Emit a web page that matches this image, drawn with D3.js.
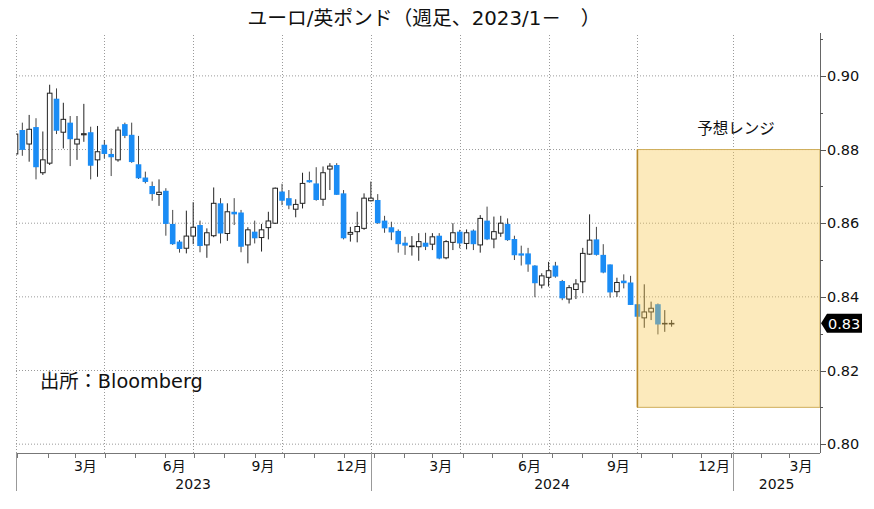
<!DOCTYPE html>
<html><head><meta charset="utf-8">
<script src="https://cdn.jsdelivr.net/npm/d3@7"></script>
<style>body{margin:0;background:#fff}</style>
</head><body>
<svg id="c" width="874" height="509"></svg>
<script>
const dates = ["2022-12-30","2023-01-06","2023-01-13","2023-01-20","2023-01-27","2023-02-03","2023-02-10","2023-02-17","2023-02-24","2023-03-03","2023-03-10","2023-03-17","2023-03-24","2023-03-31","2023-04-07","2023-04-14","2023-04-21","2023-04-28","2023-05-05","2023-05-12","2023-05-19","2023-05-26","2023-06-02","2023-06-09","2023-06-16","2023-06-23","2023-06-30","2023-07-07","2023-07-14","2023-07-21","2023-07-28","2023-08-04","2023-08-11","2023-08-18","2023-08-25","2023-09-01","2023-09-08","2023-09-15","2023-09-22","2023-09-29","2023-10-06","2023-10-13","2023-10-20","2023-10-27","2023-11-03","2023-11-10","2023-11-17","2023-11-24","2023-12-01","2023-12-08","2023-12-15","2023-12-22","2023-12-29","2024-01-05","2024-01-12","2024-01-19","2024-01-26","2024-02-02","2024-02-09","2024-02-16","2024-02-23","2024-03-01","2024-03-08","2024-03-15","2024-03-22","2024-03-29","2024-04-05","2024-04-12","2024-04-19","2024-04-26","2024-05-03","2024-05-10","2024-05-17","2024-05-24","2024-05-31","2024-06-07","2024-06-14","2024-06-21","2024-06-28","2024-07-05","2024-07-12","2024-07-19","2024-07-26","2024-08-02","2024-08-09","2024-08-16","2024-08-23","2024-08-30","2024-09-06","2024-09-13","2024-09-20","2024-09-27","2024-10-04","2024-10-11","2024-10-18","2024-10-25","2024-11-01"];
const opens = [0.8788,0.8853,0.8815,0.8861,0.8737,0.8763,0.8938,0.8847,0.8873,0.8815,0.8840,0.8847,0.8772,0.8813,0.8788,0.8772,0.8869,0.8840,0.8760,0.8724,0.8701,0.8678,0.8688,0.8598,0.8550,0.8532,0.8565,0.8595,0.8541,0.8566,0.8654,0.8572,0.8631,0.8629,0.8541,0.8577,0.8561,0.8588,0.8600,0.8686,0.8668,0.8638,0.8654,0.8717,0.8708,0.8665,0.8747,0.8758,0.8681,0.8570,0.8577,0.8586,0.8661,0.8663,0.8607,0.8589,0.8579,0.8547,0.8537,0.8536,0.8547,0.8543,0.8566,0.8506,0.8548,0.8577,0.8545,0.8580,0.8541,0.8607,0.8557,0.8573,0.8598,0.8557,0.8518,0.8518,0.8485,0.8432,0.8453,0.8485,0.8443,0.8394,0.8420,0.8441,0.8516,0.8556,0.8514,0.8488,0.8414,0.8444,0.8439,0.8380,0.8343,0.8359,0.8380,0.8327,0.8327];
const highs = [0.8876,0.8873,0.8894,0.8885,0.8849,0.8976,0.8966,0.8927,0.8891,0.8891,0.8924,0.8862,0.8864,0.8826,0.8803,0.8862,0.8873,0.8873,0.8837,0.8740,0.8713,0.8719,0.8695,0.8636,0.8554,0.8634,0.8657,0.8607,0.8586,0.8697,0.8668,0.8654,0.8668,0.8636,0.8589,0.8607,0.8598,0.8631,0.8697,0.8707,0.8690,0.8665,0.8737,0.8740,0.8752,0.8754,0.8763,0.8763,0.8690,0.8590,0.8631,0.8681,0.8713,0.8679,0.8620,0.8604,0.8583,0.8563,0.8565,0.8573,0.8574,0.8573,0.8573,0.8554,0.8600,0.8582,0.8583,0.8583,0.8622,0.8645,0.8618,0.8620,0.8613,0.8566,0.8539,0.8533,0.8486,0.8464,0.8495,0.8495,0.8446,0.8432,0.8448,0.8533,0.8624,0.8590,0.8543,0.8488,0.8452,0.8461,0.8457,0.8380,0.8434,0.8387,0.8382,0.8364,0.8337];
const lows = [0.8775,0.8783,0.8767,0.8719,0.8731,0.8758,0.8842,0.8803,0.8755,0.8772,0.8821,0.8719,0.8726,0.8776,0.8728,0.8767,0.8831,0.8764,0.8720,0.8708,0.8661,0.8647,0.8566,0.8541,0.8520,0.8518,0.8543,0.8521,0.8506,0.8562,0.8545,0.8552,0.8595,0.8521,0.8491,0.8545,0.8523,0.8556,0.8598,0.8649,0.8638,0.8616,0.8640,0.8710,0.8661,0.8647,0.8690,0.8677,0.8556,0.8550,0.8548,0.8582,0.8659,0.8598,0.8574,0.8554,0.8520,0.8514,0.8512,0.8498,0.8527,0.8527,0.8502,0.8502,0.8527,0.8532,0.8529,0.8527,0.8520,0.8554,0.8532,0.8563,0.8552,0.8500,0.8485,0.8468,0.8399,0.8423,0.8428,0.8452,0.8391,0.8382,0.8394,0.8410,0.8514,0.8512,0.8464,0.8398,0.8400,0.8423,0.8378,0.8346,0.8316,0.8337,0.8298,0.8305,0.8319];
const closes = [0.8842,0.8799,0.8855,0.8752,0.8772,0.8953,0.8851,0.8882,0.8828,0.8828,0.8843,0.8756,0.8794,0.8788,0.8779,0.8853,0.8837,0.8766,0.8722,0.8712,0.8679,0.8684,0.8598,0.8543,0.8530,0.8565,0.8589,0.8538,0.8574,0.8654,0.8572,0.8631,0.8624,0.8536,0.8582,0.8559,0.8582,0.8606,0.8695,0.8661,0.8648,0.8651,0.8708,0.8711,0.8663,0.8737,0.8755,0.8677,0.8559,0.8575,0.8591,0.8668,0.8668,0.8600,0.8586,0.8575,0.8543,0.8539,0.8538,0.8550,0.8536,0.8563,0.8504,0.8550,0.8574,0.8545,0.8574,0.8543,0.8613,0.8556,0.8577,0.8600,0.8554,0.8513,0.8512,0.8488,0.8437,0.8457,0.8471,0.8455,0.8396,0.8425,0.8435,0.8518,0.8554,0.8514,0.8466,0.8412,0.8439,0.8437,0.8378,0.8346,0.8359,0.8369,0.8325,0.8328,0.8328];

const yTicks = [0.80, 0.82, 0.84, 0.86, 0.88, 0.90];
const yMinorTicks = [0.81, 0.83, 0.85, 0.87, 0.89, 0.91];
const gridDates = ["2022-12-30","2023-03-31","2023-06-30","2023-09-29","2023-12-29","2024-03-29","2024-06-28","2024-09-27","2025-01-03"];
const monthLabels = ["3月","6月","9月","12月","3月","6月","9月","12月","3月"];
const yearLabels = ["2023","2024","2025"];
const domainDates = ["2022-12-30","2025-04-02"];
const rangeLow = 0.81, rangeHigh = 0.88;
const rangeStart = "2024-09-27";
const lastPrice = 0.8328, lastLabel = "0.83";
const title = "ユーロ/英ポンド（週足、2023/1－　）";
const sourceText = "出所：Bloomberg";
const rangeText = "予想レンジ";

const parse = d3.utcParse("%Y-%m-%d");
const L = 16, R = 820, T = 35, B = 453;
const x = d3.scaleUtc().domain(domainDates.map(parse)).range([15.5, R]);
const y = d3.scaleLinear().domain([0.7976, 0.9111]).range([B, T]);

const svg = d3.select("#c");
const numFont = "'DejaVu Sans', 'Noto Sans CJK JP', sans-serif";
const jpFont = "'Noto Sans CJK JP', sans-serif";

svg.append("defs").append("clipPath").attr("id","clip")
  .append("rect").attr("x",L).attr("y",T).attr("width",R-L).attr("height",B-T);

// horizontal gridlines
svg.append("g").selectAll("line").data(yTicks).join("line")
  .attr("x1",L).attr("x2",R).attr("y1",d=>y(d)).attr("y2",d=>y(d))
  .attr("stroke","#9a9a9a").attr("stroke-dasharray","1,2").attr("stroke-width",1);
// vertical gridlines
svg.append("g").selectAll("line").data(gridDates).join("line")
  .attr("x1",d=>Math.round(x(parse(d)))+0.5).attr("x2",d=>Math.round(x(parse(d)))+0.5)
  .attr("y1",T).attr("y2",B)
  .attr("stroke","#9a9a9a").attr("stroke-dasharray","1,2").attr("stroke-width",1);

// candles
const data = dates.map((d,i)=>({date:parse(d),o:opens[i],h:highs[i],l:lows[i],c:closes[i]}));
const cw = 5.6;
const cg = svg.append("g").attr("clip-path","url(#clip)");
const cs = cg.selectAll("g").data(data).join("g");
cs.append("line")
  .attr("x1",d=>x(d.date)).attr("x2",d=>x(d.date))
  .attr("y1",d=>y(d.h)).attr("y2",d=>y(d.l))
  .attr("stroke",d=>d.c>=d.o?"#222":"#444").attr("stroke-width",1);
cs.append("rect")
  .attr("x",d=> d.c>=d.o ? x(d.date)-cw/2+0.5 : x(d.date)-cw/2)
  .attr("width",d=> d.c>=d.o ? cw-1 : cw)
  .attr("y",d=>y(Math.max(d.o,d.c)))
  .attr("height",d=>Math.max(0.6, Math.abs(y(d.o)-y(d.c))))
  .attr("fill",d=>d.c>=d.o?"#ffffff":"#1a8cf5")
  .attr("stroke",d=>d.c>=d.o?"#222":"none")
  .attr("stroke-width",1);

// forecast range box (semi-transparent overlay)
const bx0 = x(parse(rangeStart)), bx1 = R;
svg.append("rect").attr("x",bx0).attr("y",y(rangeHigh)).attr("width",bx1-bx0).attr("height",y(rangeLow)-y(rangeHigh))
  .attr("fill","rgb(247,200,80)").attr("fill-opacity",0.38)
  .attr("stroke","#cfae5a").attr("stroke-width",1);
svg.append("line").attr("x1",bx0).attr("x2",bx0).attr("y1",y(rangeHigh)).attr("y2",y(rangeLow))
  .attr("stroke","#b8892b").attr("stroke-width",1.6);
svg.append("text").attr("x",736).attr("y",134).attr("text-anchor","middle")
  .attr("font-family",jpFont).attr("font-size",15.5).attr("fill","#111").text(rangeText);

// right axis
svg.append("line").attr("x1",R+0.5).attr("x2",R+0.5).attr("y1",T-2).attr("y2",B).attr("stroke","#666");
svg.append("g").selectAll("line").data(yTicks).join("line")
  .attr("x1",R).attr("x2",R+6).attr("y1",d=>Math.round(y(d))+0.5).attr("y2",d=>Math.round(y(d))+0.5).attr("stroke","#555");
svg.append("g").selectAll("line").data(yMinorTicks).join("line")
  .attr("x1",R).attr("x2",R+3).attr("y1",d=>Math.round(y(d))+0.5).attr("y2",d=>Math.round(y(d))+0.5).attr("stroke","#555");
svg.append("g").selectAll("text").data(yTicks).join("text")
  .attr("x",R+7).attr("y",d=>y(d)).attr("dy","0.36em")
  .attr("font-family",numFont).attr("font-size",14.5).attr("fill","#111")
  .text(d=>d3.format(".2f")(d));

// last price tag
const ly = y(lastPrice);
svg.append("path").attr("d",`M${R+1},${ly} L${R+7},${ly-9.5} L${R+42},${ly-9.5} L${R+42},${ly+9.5} L${R+7},${ly+9.5} Z`).attr("fill","#000");
svg.append("text").attr("x",R+8).attr("y",ly).attr("dy","0.36em")
  .attr("font-family",numFont).attr("font-size",14.5).attr("fill","#fff").text(lastLabel);

// bottom axis
svg.append("line").attr("x1",L).attr("x2",R).attr("y1",B+0.5).attr("y2",B+0.5).attr("stroke","#777");
const months = d3.utcMonth.range(parse("2023-01-01"), parse("2025-04-01"));
svg.append("g").selectAll("line").data(months).join("line")
  .attr("x1",d=>Math.round(x(d))+0.5).attr("x2",d=>Math.round(x(d))+0.5).attr("y1",B).attr("y2",B+5).attr("stroke","#777");
const gx = gridDates.map(d=>x(parse(d)));
const gxEnd = gx.slice(1).concat([R]);
svg.append("g").selectAll("text").data(monthLabels).join("text")
  .attr("x",(d,i)=>gxEnd[i]-19).attr("y",B+18).attr("text-anchor","middle")
  .attr("font-family",numFont).attr("font-size",14).attr("fill","#111").text(d=>d);
const yb = [gx[0], gx[4], gx[8], R];
svg.append("g").selectAll("line").data([yb[0],yb[1],yb[2]]).join("line")
  .attr("x1",d=>Math.round(d)+0.5).attr("x2",d=>Math.round(d)+0.5).attr("y1",B).attr("y2",B+38).attr("stroke","#999");
svg.append("g").selectAll("text").data(yearLabels).join("text")
  .attr("x",(d,i)=>(yb[i]+yb[i+1])/2).attr("y",B+36).attr("text-anchor","middle")
  .attr("font-family",numFont).attr("font-size",14).attr("fill","#111").text(d=>d);

// title & source
svg.append("text").attr("x",424).attr("y",25).attr("text-anchor","middle")
  .attr("font-family",numFont).attr("font-size",19.8).attr("fill","#111").text(title);
svg.append("text").attr("x",40).attr("y",388)
  .attr("font-family",numFont).attr("font-size",19.3).attr("fill","#111").text(sourceText);
</script>
</body></html>
